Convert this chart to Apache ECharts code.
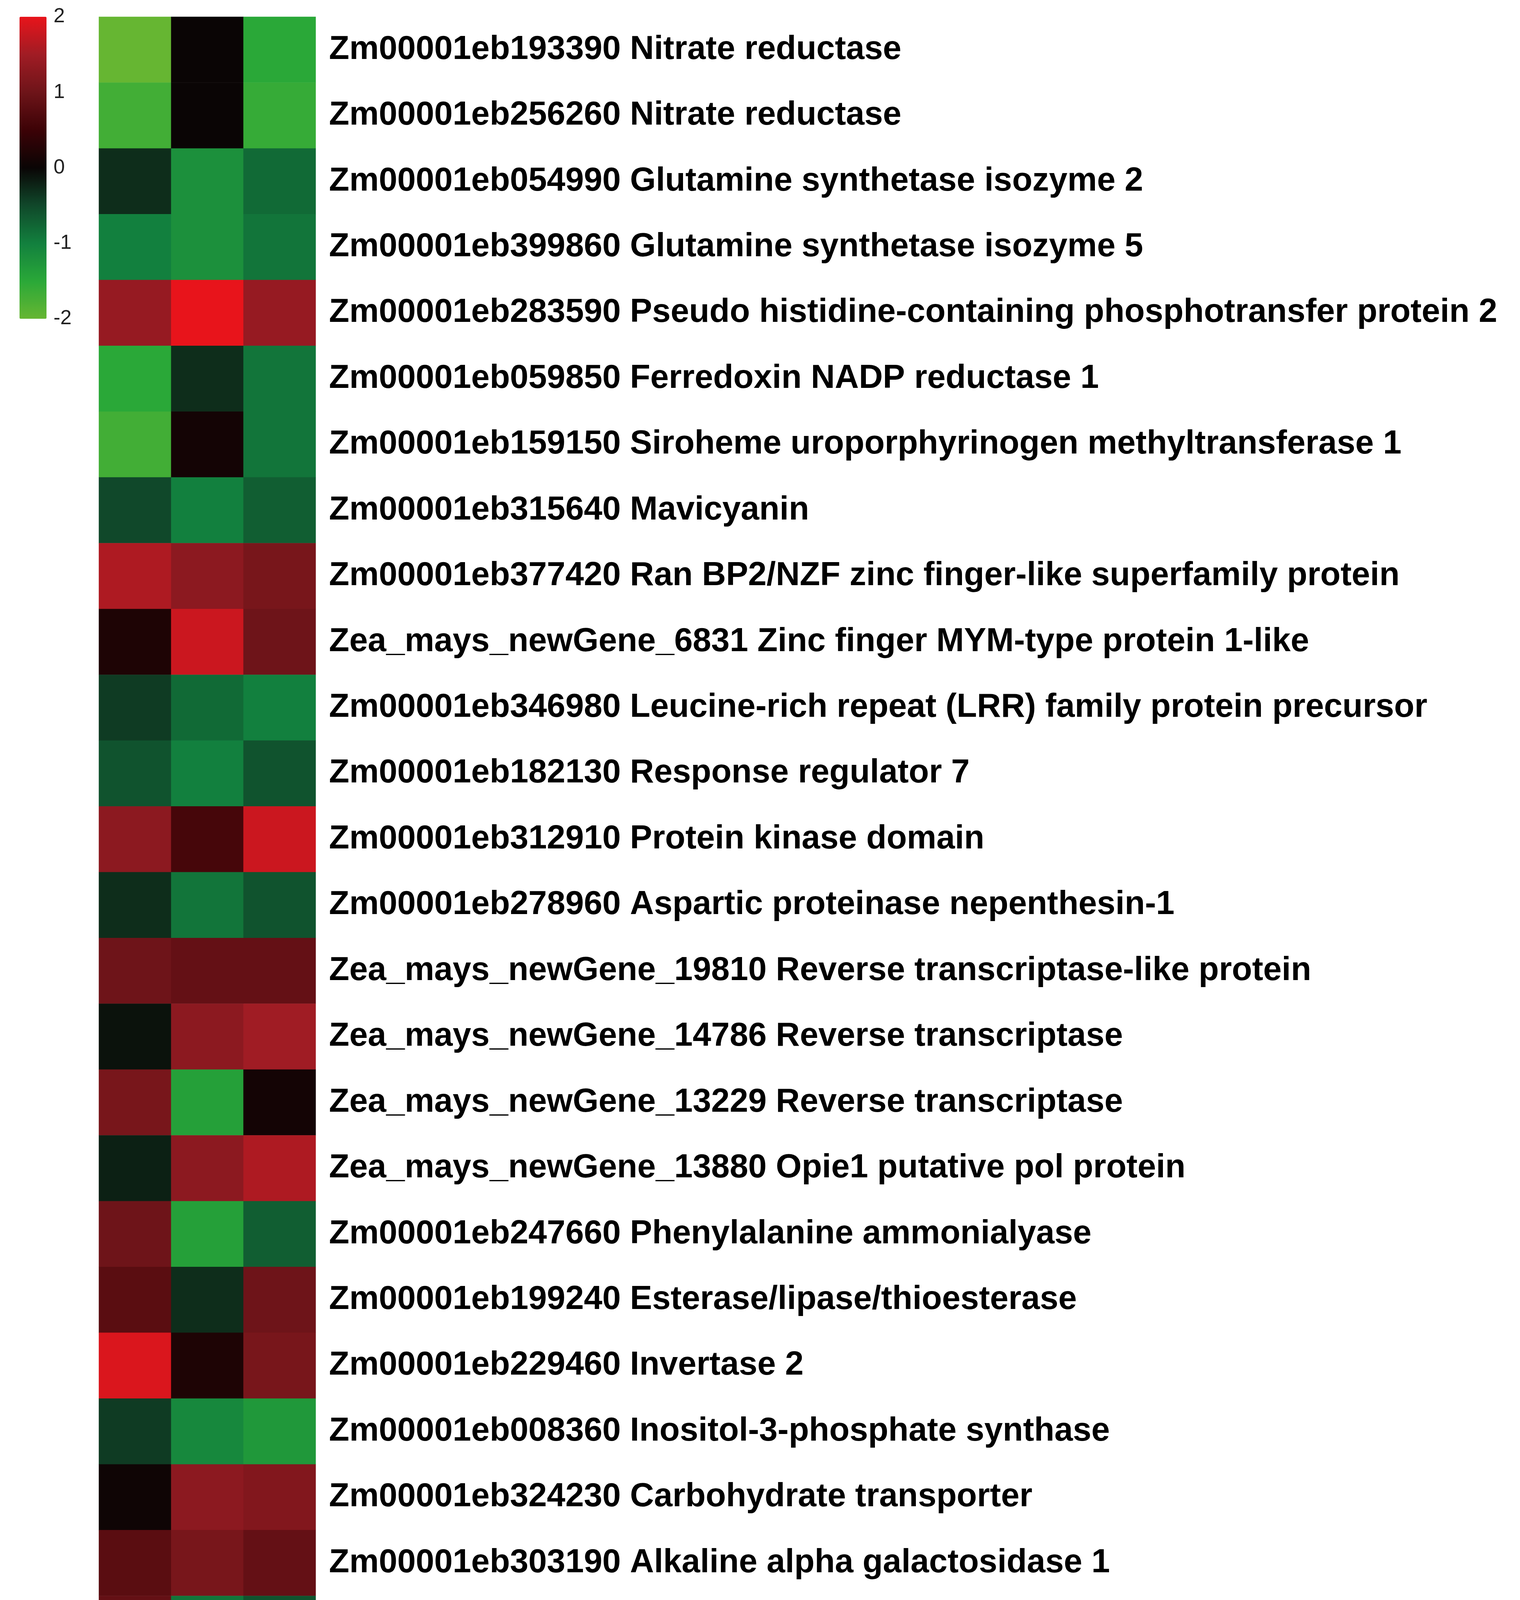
<!DOCTYPE html>
<html>
<head>
<meta charset="utf-8">
<script src="https://cdn.jsdelivr.net/npm/echarts@6/dist/echarts.min.js"></script>
<style>html,body{margin:0;padding:0;background:#fff}#main{width:3890px;height:4928px}</style>
</head>
<body>
<div id="main"></div>
<script>
// comparisons (columns)
var groups = ['LC vs. LCI', 'LN vs. LNI', 'LNN vs. LNNI'];
// genes (rows, top to bottom)
var genes = [
    'Zm00001eb193390 Nitrate reductase',
    'Zm00001eb256260 Nitrate reductase',
    'Zm00001eb054990 Glutamine synthetase isozyme 2',
    'Zm00001eb399860 Glutamine synthetase isozyme 5',
    'Zm00001eb283590 Pseudo histidine-containing phosphotransfer protein 2',
    'Zm00001eb059850 Ferredoxin NADP reductase 1',
    'Zm00001eb159150 Siroheme uroporphyrinogen methyltransferase 1',
    'Zm00001eb315640 Mavicyanin',
    'Zm00001eb377420 Ran BP2/NZF zinc finger-like superfamily protein',
    'Zea_mays_newGene_6831 Zinc finger MYM-type protein 1-like',
    'Zm00001eb346980 Leucine-rich repeat (LRR) family protein precursor',
    'Zm00001eb182130 Response regulator 7',
    'Zm00001eb312910 Protein kinase domain',
    'Zm00001eb278960 Aspartic proteinase nepenthesin-1',
    'Zea_mays_newGene_19810 Reverse transcriptase-like protein',
    'Zea_mays_newGene_14786 Reverse transcriptase',
    'Zea_mays_newGene_13229 Reverse transcriptase',
    'Zea_mays_newGene_13880 Opie1 putative pol protein',
    'Zm00001eb247660 Phenylalanine ammonialyase',
    'Zm00001eb199240 Esterase/lipase/thioesterase',
    'Zm00001eb229460 Invertase 2',
    'Zm00001eb008360 Inositol-3-phosphate synthase',
    'Zm00001eb324230 Carbohydrate transporter',
    'Zm00001eb303190 Alkaline alpha galactosidase 1',
    'Zm00001eb394430 Cytochrome P450 93G2'
];
// z-scores per column, same order as genes
var lcVals  = [-2.0,-1.7,-0.3,-1.0, 1.4,-1.5,-1.7,-0.5, 1.6, 0.2,-0.4,-0.6, 1.3,-0.3, 1.0,-0.1, 1.1,-0.2, 1.0, 0.8, 1.9,-0.4, 0.05, 0.8, 0.9];
var lnVals  = [ 0.0, 0.0,-1.2,-1.2, 2.0,-0.3, 0.1,-1.0, 1.3, 1.8,-0.8,-1.0, 0.6,-0.9, 0.9, 1.3,-1.4, 1.3,-1.4,-0.3, 0.2,-1.1, 1.3, 1.1,-0.9];
var lnnVals = [-1.5,-1.6,-0.8,-0.9, 1.4,-0.9,-0.9,-0.7, 1.1, 1.0,-1.0,-0.6, 1.8,-0.6, 0.9, 1.5, 0.1, 1.6,-0.7, 1.0, 1.1,-1.3, 1.2, 0.9,-0.6];
var scaleTicks = [-2, -1, 0, 1, 2];

var cols = [lcVals, lnVals, lnnVals];
var data = [];
cols.forEach(function (col, x) {
    col.forEach(function (v, y) { data.push([x, y, v]); });
});

var myChart = echarts.init(document.getElementById('main'));
var option = {
    backgroundColor: '#fff',
    animation: false,
    visualMap: {
        type: 'continuous',
        seriesIndex: 0,
        min: -2, max: 2,
        left: 50, top: 43,
        itemWidth: 69, itemHeight: 773,
        padding: 0,
        text: null,
        showLabel: false,
        calculable: false,
        inRange: {
            color: ['#66b632', '#2aa838', '#12803e', '#10482a', '#0a0505', '#3c0206', '#6e1419', '#a01c24', '#e8141b']
        }
    },
    grid: [
        {left: 253, top: 43, width: 555, height: 4211, outerBoundsMode: 'none'},
        {left: 50, top: 43, width: 69, height: 773, outerBoundsMode: 'none'}
    ],
    xAxis: [
        {
            type: 'category', data: groups, gridIndex: 0,
            axisLine: {show: false}, axisTick: {show: false},
            axisLabel: {rotate: 90, fontSize: 92, fontWeight: 'bold', color: '#000', fontFamily: 'Liberation Sans, Arial', margin: 24}
        },
        {type: 'value', gridIndex: 1, show: false, min: 0, max: 1}
    ],
    yAxis: [
        {
            type: 'category', data: genes, gridIndex: 0, inverse: true, position: 'right',
            axisLine: {show: false}, axisTick: {show: false},
            axisLabel: {fontSize: 85, fontWeight: 'bold', color: '#000', fontFamily: 'Liberation Sans, Arial', margin: 34}
        },
        {
            type: 'value', gridIndex: 1, position: 'right', min: -2, max: 2, interval: 1,
            axisLine: {show: false}, axisTick: {show: false}, splitLine: {show: false},
            axisLabel: {fontSize: 52, color: '#222', fontFamily: 'Liberation Sans, Arial', margin: 18,
                customValues: scaleTicks}
        }
    ],
    series: [
        {type: 'heatmap', xAxisIndex: 0, yAxisIndex: 0, data: data},
        {type: 'scatter', xAxisIndex: 1, yAxisIndex: 1, data: [], silent: true}
    ]
};
myChart.setOption(option);
</script>
</body>
</html>
